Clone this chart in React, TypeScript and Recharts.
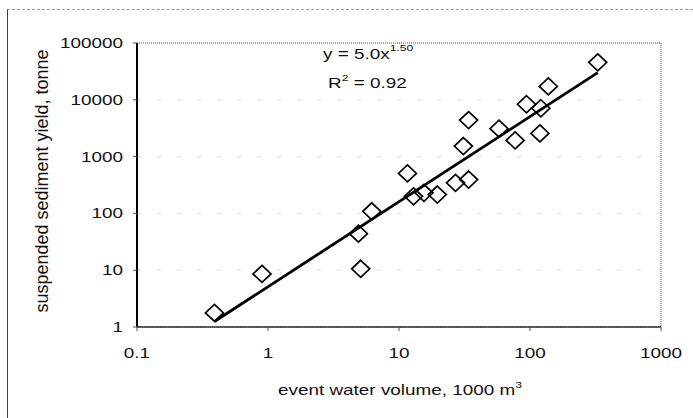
import { ScatterChart, Scatter, XAxis, YAxis, CartesianGrid, ReferenceArea, Customized } from 'recharts';

// event water volume (1000 m3) and suspended sediment yield (tonne)
const volumes = [0.39, 0.9, 5.1, 4.9, 6.2, 11.6, 12.9, 15.5, 19.6, 27, 34, 31, 34, 58, 77, 94, 121, 119, 138, 329];
const yields = [1.77, 8.6, 10.6, 44, 109, 505, 200, 230, 215, 345, 395, 1535, 4400, 3100, 1930, 8350, 7100, 2560, 17200, 45600];

// ends of the power trend line y = 5.0x^1.50
const trendVolumes = [0.39, 329];
const trendYields = [1.25, 30000];

const xTicks = [0.1, 1, 10, 100, 1000];
const xTickLabels = ['0.1', '1', '10', '100', '1000'];
const yTicks = [1, 10, 100, 1000, 10000, 100000];
const yTickLabels = ['1', '10', '100', '1000', '10000', '100000'];

const points = volumes.map((v, i) => ({ x: v, y: yields[i] }));
const trend = trendVolumes.map((v, i) => ({ x: v, y: trendYields[i] }));

const FONT = '"Liberation Sans", Arial, sans-serif';
// the scanned figure is stretched sideways, so text is widened to match
const stretch = (x: number) => `translate(${x} 0) scale(1.35 1) translate(${-x} 0)`;

function XTick(props: any) {
    const { x, y, index } = props;
    return (
        <text x={x} y={y + 27} textAnchor="middle" fontSize={14} fontFamily={FONT} fill="#111" transform={stretch(x)}>
            {xTickLabels[index]}
        </text>
    );
}

function YTick(props: any) {
    const { x, y, index } = props;
    return (
        <text x={x} y={y + 5} textAnchor="end" fontSize={14} fontFamily={FONT} fill="#111" transform={stretch(x)}>
            {yTickLabels[index]}
        </text>
    );
}

function Diamond(props: any) {
    const { cx, cy } = props;
    const d = `M${cx},${cy - 8.5} L${cx + 9},${cy} L${cx},${cy + 8.5} L${cx - 9},${cy} Z`;
    return <path d={d} fill="none" stroke="#000" strokeWidth={1.7} />;
}

function Annotations() {
    return (
        <g fontFamily={FONT} fill="#111">
            <text x={323} y={59} fontSize={14} transform={stretch(323)}>
                y = 5.0x<tspan fontSize={9} dy={-8}>1.50</tspan>
            </text>
            <text x={328} y={88} fontSize={14} transform={stretch(328)}>
                R<tspan fontSize={9} dy={-7}>2</tspan><tspan dy={7}> = 0.92</tspan>
            </text>
            <text x={278} y={395} fontSize={14} transform={stretch(278)}>
                event water volume, 1000 m<tspan fontSize={9} dy={-7}>3</tspan>
            </text>
            <text x={42} y={181} fontSize={18} textAnchor="middle" dy={6} transform="rotate(-90 42 181)">
                suspended sediment yield, tonne
            </text>
        </g>
    );
}

const App = () => {
    return (
        <div style={{ position: 'absolute', left: 0, top: 0, width: 693, height: 418, overflow: 'hidden', background: '#fff' }}>
            <div style={{ position: 'absolute', left: 7, top: 9, width: 700, height: 420, borderLeft: '1px solid #444', borderTop: '1px dashed #999' }} />
            <div style={{ position: 'absolute', left: 0, top: 0 }}>
                <ScatterChart width={693} height={418} margin={{ top: 43, right: 32, bottom: 31, left: 57 }}>
                    <CartesianGrid horizontal vertical={false} stroke="#dcdcdc" strokeDasharray="4 16" />
                    <ReferenceArea x1={0.1} x2={1000} y1={1} y2={100000} fill="none" stroke="#555" strokeDasharray="1 1" />
                    <XAxis
                        dataKey="x"
                        type="number"
                        scale="log"
                        domain={[0.1, 1000]}
                        ticks={xTicks}
                        allowDataOverflow
                        height={60}
                        tickSize={4}
                        tickMargin={0}
                        axisLine={{ stroke: '#333', strokeWidth: 1.5 }}
                        tickLine={{ stroke: '#555' }}
                        tick={XTick}
                    />
                    <YAxis
                        dataKey="y"
                        type="number"
                        scale="log"
                        domain={[1, 100000]}
                        ticks={yTicks}
                        allowDataOverflow
                        width={80}
                        tickSize={4}
                        tickMargin={10}
                        axisLine={{ stroke: '#000', strokeWidth: 2 }}
                        tickLine={{ stroke: '#555' }}
                        tick={YTick}
                    />
                    <Scatter data={points} shape={Diamond} isAnimationActive={false} />
                    <Scatter data={trend} line={{ stroke: '#000', strokeWidth: 2.8 }} shape={() => <g />} isAnimationActive={false} />
                    <Customized component={<Annotations />} />
                </ScatterChart>
            </div>
        </div>
    );
};

export default App;
